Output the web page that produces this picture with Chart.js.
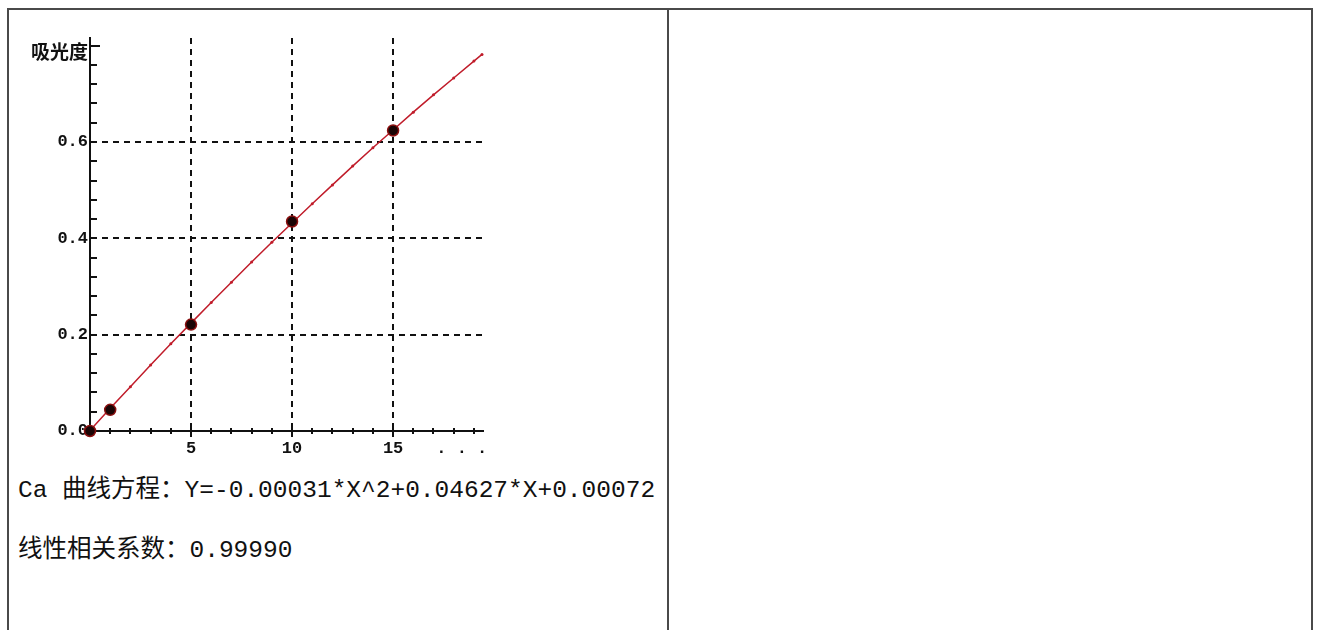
<!DOCTYPE html>
<html lang="zh-CN">
<head>
<meta charset="utf-8">
<title>Ca 标准曲线</title>
<script src="https://cdn.jsdelivr.net/npm/chart.js@4.4.1/dist/chart.umd.min.js"></script>
<style>
  html, body { margin: 0; padding: 0; background: #fff; }
  body { width: 1319px; height: 630px; position: relative; overflow: hidden; }
  .rule { position: absolute; background: #4a4a4a; }
  #curve { position: absolute; left: 10px; top: 10px; }
  .note {
    position: absolute; left: 18px; white-space: nowrap;
    font-family: "Liberation Mono", "Noto Sans CJK SC", monospace;
    font-size: 24.5px; line-height: 26px; color: #111;
  }
</style>
</head>
<body>
<!-- table frame -->
<div class="rule" style="left:7px; top:8px; width:1306px; height:2px;"></div>
<div class="rule" style="left:7px; top:8px; width:2px; height:622px;"></div>
<div class="rule" style="left:667px; top:8px; width:2px; height:622px;"></div>
<div class="rule" style="left:1311px; top:8px; width:2px; height:622px;"></div>

<canvas id="curve" width="480" height="452"></canvas>

<div class="note" id="eq" style="top:478px;"></div>
<div class="note" id="corr" style="top:538px;"></div>

<script>
// Standard points (concentration, absorbance)
const stdX = [0, 1, 5, 10, 15];
const stdY = [0.000, 0.044, 0.221, 0.435, 0.624];

// Fitted quadratic curve, sampled at each unit of concentration
const fitX = [0, 1, 2, 3, 4, 5, 6, 7, 8, 9, 10, 11, 12, 13, 14, 15, 16, 17, 18, 19, 19.4];
const fitY = [0.001, 0.047, 0.092, 0.137, 0.181, 0.224, 0.267, 0.309, 0.351, 0.392,
              0.432, 0.472, 0.511, 0.550, 0.588, 0.625, 0.662, 0.698, 0.733, 0.768, 0.782];

// Axis ticks
const xTickValues = [5, 10, 15, 18.4];
const xTickLabels = ['5', '10', '15', '. . .'];
const xGridValues = [5, 10, 15];
const xMinorTicks = [1, 2, 3, 4, 6, 7, 8, 9, 11, 12, 13, 14, 16, 17, 18, 19];

const yTickValues = [0, 0.2, 0.4, 0.6, 0.788];
const yTickLabels = ['0.0', '0.2', '0.4', '0.6', '吸光度'];
const yGridValues = [0.2, 0.4, 0.6];
const yMinorTicks = [0.04, 0.08, 0.12, 0.16, 0.24, 0.28, 0.32, 0.36, 0.44, 0.48,
                     0.52, 0.56, 0.64, 0.68, 0.72, 0.76, 0.8];

const equationText = 'Ca 曲线方程：Y=-0.00031*X^2+0.04627*X+0.00072';
const correlationText = '线性相关系数：0.99990';

document.getElementById('eq').textContent = equationText;
document.getElementById('corr').textContent = correlationText;

const near = (a, list) => list.some(v => Math.abs(v - a) < 1e-6);

// Short inward tick marks along both axes
const minorTickPlugin = {
  id: 'minorTicks',
  afterDraw(chart) {
    const { ctx, scales: { x, y } } = chart;
    const x0 = x.getPixelForValue(0);
    const y0 = y.getPixelForValue(0);
    ctx.save();
    ctx.strokeStyle = '#111';
    ctx.lineWidth = 2;
    ctx.beginPath();
    yMinorTicks.forEach(v => {
      const py = Math.round(y.getPixelForValue(v));
      const len = Math.abs(v - 0.8) < 1e-6 ? 10 : 7;
      ctx.moveTo(x0, py);
      ctx.lineTo(x0 + len, py);
    });
    xMinorTicks.forEach(v => {
      const px = Math.round(x.getPixelForValue(v));
      ctx.moveTo(px, y0 - 3);
      ctx.lineTo(px, y0 + 3);
    });
    xGridValues.forEach(v => {
      const px = Math.round(x.getPixelForValue(v));
      ctx.moveTo(px, y0 - 4);
      ctx.lineTo(px, y0 + 6);
    });
    ctx.stroke();
    ctx.restore();
  }
};

const tickFont = { family: '"Liberation Mono", monospace', size: 17, weight: 'bold' };

new Chart(document.getElementById('curve'), {
  type: 'scatter',
  data: {
    datasets: [
      {
        label: '标准点',
        data: stdX.map((v, i) => ({ x: v, y: stdY[i] })),
        showLine: false,
        pointRadius: 5.5,
        pointBackgroundColor: '#1a0505',
        pointBorderColor: '#8a1010',
        pointBorderWidth: 1.5,
        clip: false
      },
      {
        label: '拟合曲线',
        data: fitX.map((v, i) => ({ x: v, y: fitY[i] })),
        showLine: true,
        borderColor: '#c01c2a',
        borderWidth: 1.5,
        pointRadius: 1.5,
        pointBackgroundColor: '#c01c2a',
        pointBorderWidth: 0,
        tension: 0,
        clip: false
      }
    ]
  },
  options: {
    responsive: false,
    animation: false,
    devicePixelRatio: 1,
    layout: { padding: { top: 28, right: 5, left: 0, bottom: 0 } },
    plugins: { legend: { display: false }, tooltip: { enabled: false } },
    scales: {
      x: {
        type: 'linear',
        min: 0,
        max: 19.45,
        afterBuildTicks: s => { s.ticks = xTickValues.map(v => ({ value: v })); },
        afterFit: s => { s.height = 31; s.paddingLeft = 0; s.paddingRight = 0; },
        ticks: {
          padding: 8,
          color: '#111',
          font: tickFont,
          maxRotation: 0,
          autoSkip: false,
          callback: v => xTickLabels[xTickValues.indexOf(v)]
        },
        grid: {
          drawTicks: false,
          lineWidth: 2,
          color: c => near(c.tick && c.tick.value, xGridValues) ? '#111' : 'rgba(0,0,0,0)'
        },
        border: { display: true, color: '#111', width: 2, dash: [6, 5] }
      },
      y: {
        type: 'linear',
        min: 0,
        max: 0.816,
        afterBuildTicks: s => { s.ticks = yTickValues.map(v => ({ value: v })); },
        afterFit: s => { s.width = 80; },
        ticks: {
          padding: 2,
          color: '#111',
          autoSkip: false,
          font: c => (c.tick && c.tick.value === 0.788)
            ? { family: '"Noto Sans CJK SC", sans-serif', size: 19, weight: 'bold' }
            : tickFont,
          callback: v => yTickLabels[yTickValues.indexOf(v)]
        },
        grid: {
          drawTicks: false,
          lineWidth: 2,
          color: c => near(c.tick && c.tick.value, yGridValues) ? '#111' : 'rgba(0,0,0,0)'
        },
        border: { display: true, color: '#111', width: 2, dash: [6, 5] }
      }
    }
  },
  plugins: [minorTickPlugin]
});
</script>
</body>
</html>
